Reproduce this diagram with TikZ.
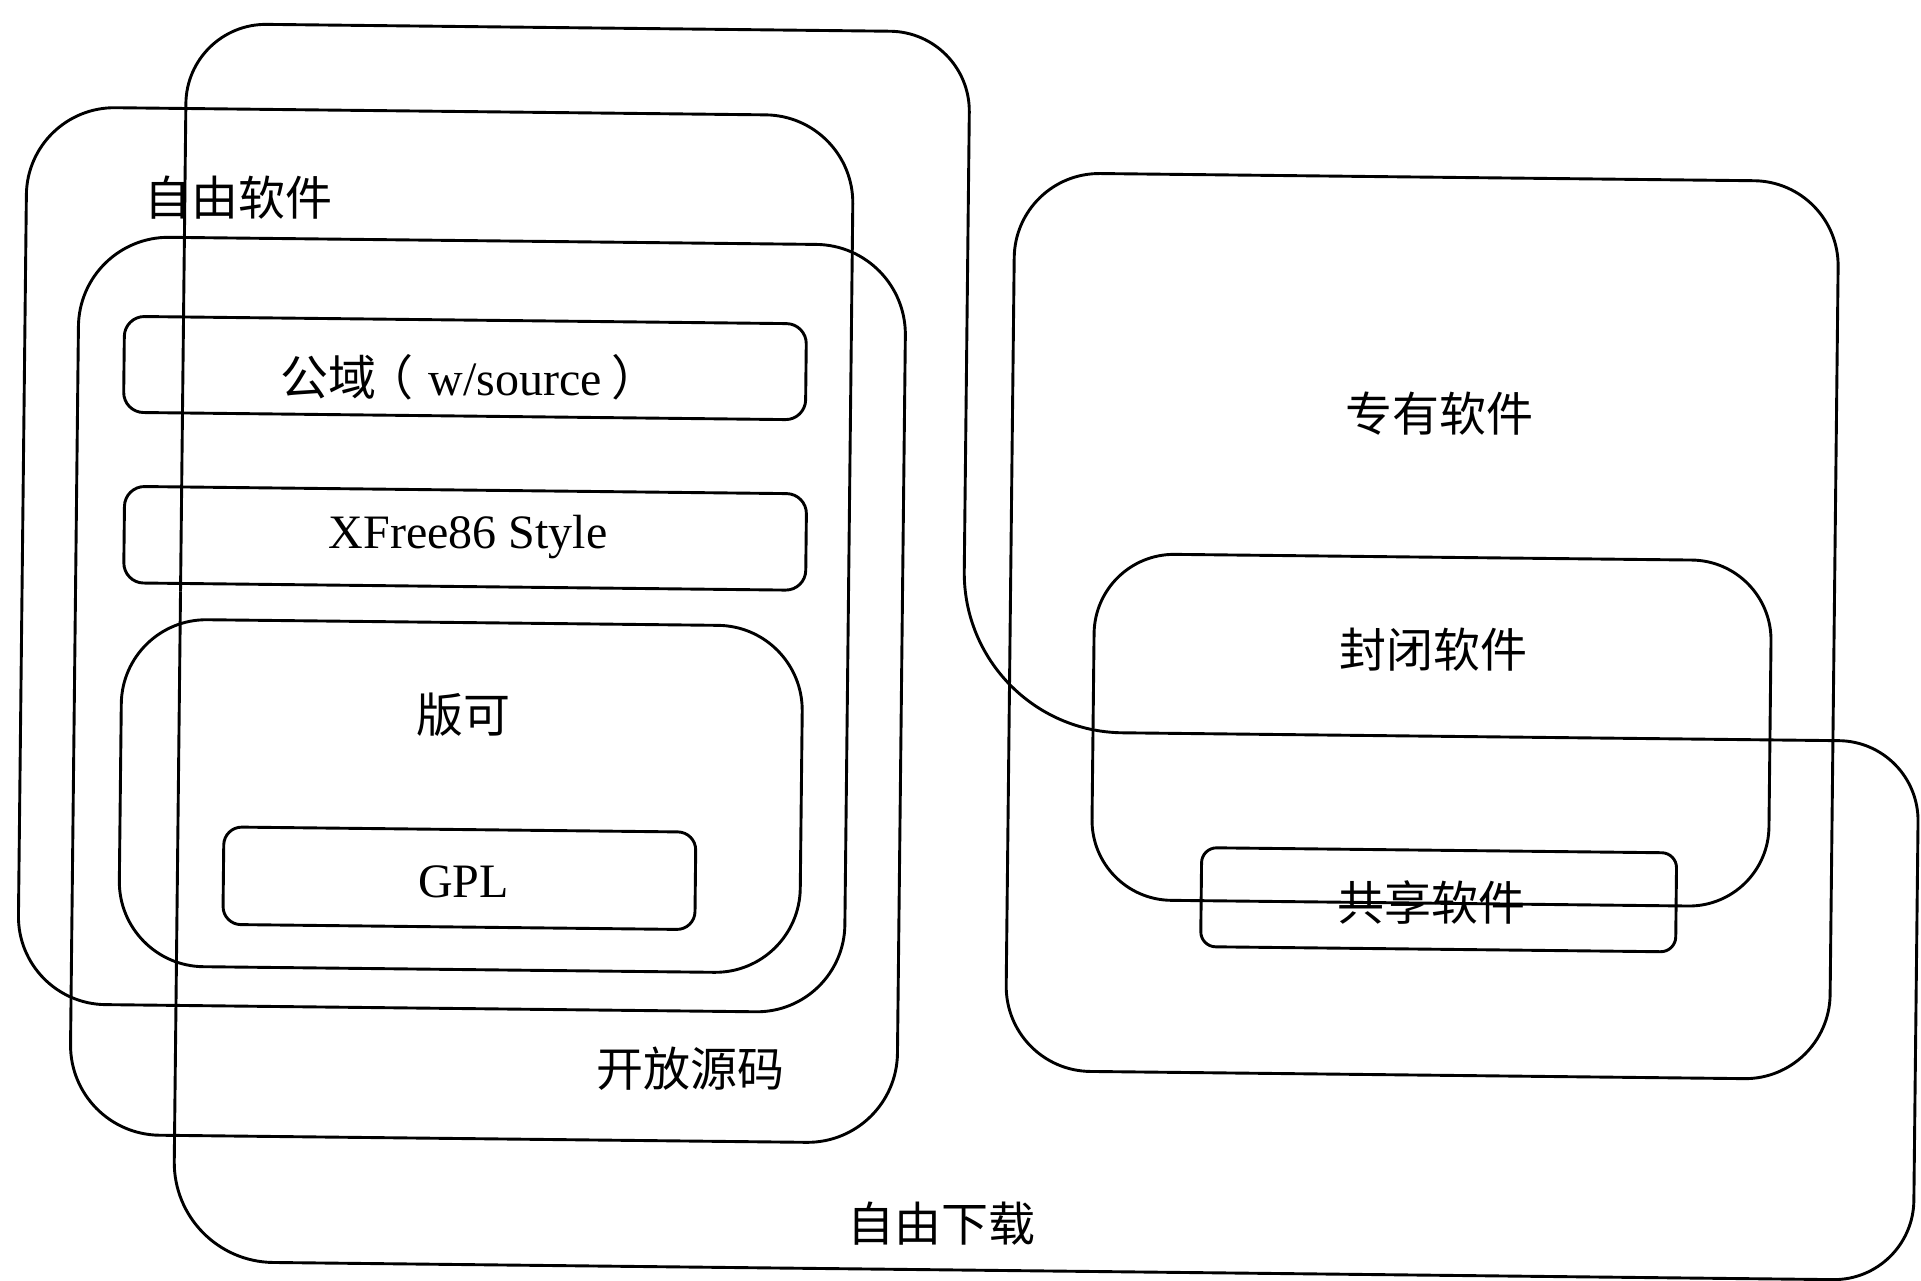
\documentclass[tikz,border=0pt]{standalone}
\usepackage{fontspec}
\setmainfont{Liberation Serif}
\newfontfamily\cjk{Noto Sans CJK SC}
\begin{document}
\begin{tikzpicture}[x=1pt,y=-1pt,
  outline/.style={line width=2.9pt, draw=black, line join=round},
  zh/.style={font=\cjk\fontsize{47}{56}\selectfont, inner sep=0pt, anchor=center},
  en/.style={font=\fontsize{48}{58}\selectfont, inner sep=0pt, anchor=center}]
\useasboundingbox (0,0) rectangle (1921,1280);
\fill[white] (0,0) rectangle (1921,1280);
\begin{scope}[rotate around={-0.63:(960,640)}]
  % 自由下载 region (L-shaped outline)
  \draw[outline, rounded corners=80pt] (180,600) -- (180,32) -- (963.5,32) -- (963.5,400);
  \draw[outline, rounded corners=160pt] (963.5,400) -- (963.5,731) -- (1400,731);
  \draw[outline, rounded corners=80pt] (1400,731) -- (1920,731) -- (1920,1270) -- (600,1270);
  \draw[outline, rounded corners=100pt] (600,1270) -- (180,1270) -- (180,600);
  % 自由软件
  \draw[outline, rounded corners=88pt] (21.5,117) rectangle (848,1014);
  % 开放源码
  \draw[outline, rounded corners=90pt] (75,246) rectangle (902,1144);
  % 公域
  \draw[outline, rounded corners=20pt] (121,325.5) rectangle (803,421.5);
  % XFree86
  \draw[outline, rounded corners=20pt] (123,495.5) rectangle (805,592);
  % 版可
  \draw[outline, rounded corners=85pt] (122,628) rectangle (803,975);
  % GPL
  \draw[outline, rounded corners=18pt] (226,835) rectangle (698,932.5);
  % 专有软件
  \draw[outline, rounded corners=85pt] (1010,172) rectangle (1834,1070);
  % 封闭软件
  \draw[outline, rounded corners=80pt] (1094,552) rectangle (1771,898);
  % 共享软件
  \draw[outline, rounded corners=15pt] (1204,845) rectangle (1679,944);

  \node[zh] (tfs) at (234,206) {自由软件};
  \node[zh] (tos) at (695,1072) {开放源码};
  \node[zh] (tfd) at (948,1224) {自由下载};
  \node[en] (tgy) at (467,382.5) {{\cjk 公域}\hspace{-0.23em}{\cjk （}\hspace{0.32em}w/source\hspace{0.2em}{\cjk ）}};
  \node[en] (txf) at (467,542) {XFree86 Style};
  \node[zh] (tbk) at (464,720) {版可};
  \node[en] (tgpl) at (466,887) {GPL};
  \node[zh] (tzy) at (1436.5,408) {专有软件};
  \node[zh] (tfb) at (1434,644) {封闭软件};
  \node[zh] (tgx) at (1434,897) {共享软件};
\end{scope}
\end{tikzpicture}
\end{document}
